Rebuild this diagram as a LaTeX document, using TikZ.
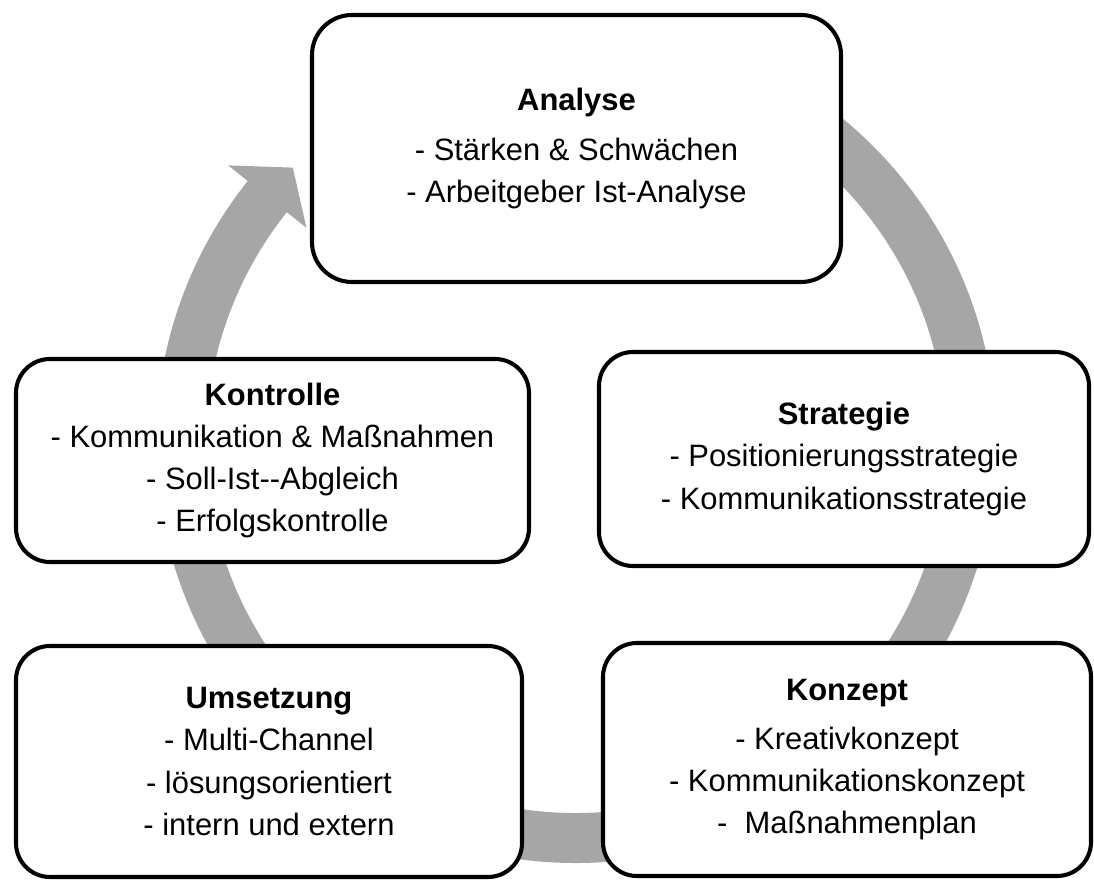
\documentclass[tikz,border=0pt]{standalone}
\usepackage{fontspec}
\setmainfont{Liberation Sans}
\definecolor{ringgray}{RGB}{166,166,166}

\begin{document}
\begin{tikzpicture}[x=0.25mm,y=0.25mm,
  stage/.style={draw=black,line width=2.9pt,fill=white,align=center,
    rounded corners=8.5mm,inner sep=0pt,font=\fontsize{22}{29.9}\selectfont},
  ring/.style={draw=ringgray,line width=12.5mm}]
\useasboundingbox (0,0) rectangle (1094,881);
\coordinate (mid) at (576,438);
\draw[ring] (mid) ++(95:395) arc[start angle=95,end angle=-219,radius=395];
\fill[ringgray] ([shift={(mid)}]141.4:445) -- ([shift={(mid)}]135.8:395)
  -- ([shift={(mid)}]141.4:345) -- cycle;
\node[stage,rounded corners=10mm,minimum width=132.25mm,minimum height=66.75mm] (analyse) at (576.5,732.5)
  {\textbf{Analyse}\\[5pt]- Stärken \& Schwächen\\- Arbeitgeber Ist-Analyse};
\node[stage,minimum width=122.5mm,minimum height=53.5mm] (strategie) at (844,422)
  {\textbf{Strategie}\\- Positionierungsstrategie\\- Kommunikationsstrategie};
\node[stage,minimum width=122mm,minimum height=58.25mm] (konzept) at (847,121.5)
  {\textbf{Konzept}\\[5pt]- Kreativkonzept\\- Kommunikationskonzept\\- \ Maßnahmenplan};
\node[stage,minimum width=126.5mm,minimum height=57.75mm] (umsetzung) at (269,119.5)
  {\textbf{Umsetzung}\\- Multi-Channel\\- lösungsorientiert\\- intern und extern};
\node[stage,minimum width=128.25mm,minimum height=50.75mm] (kontrolle) at (272.5,420.5)
  {\textbf{Kontrolle}\\- Kommunikation \& Maßnahmen\\- Soll-Ist-{}-Abgleich\\- Erfolgskontrolle};
\end{tikzpicture}
\end{document}
